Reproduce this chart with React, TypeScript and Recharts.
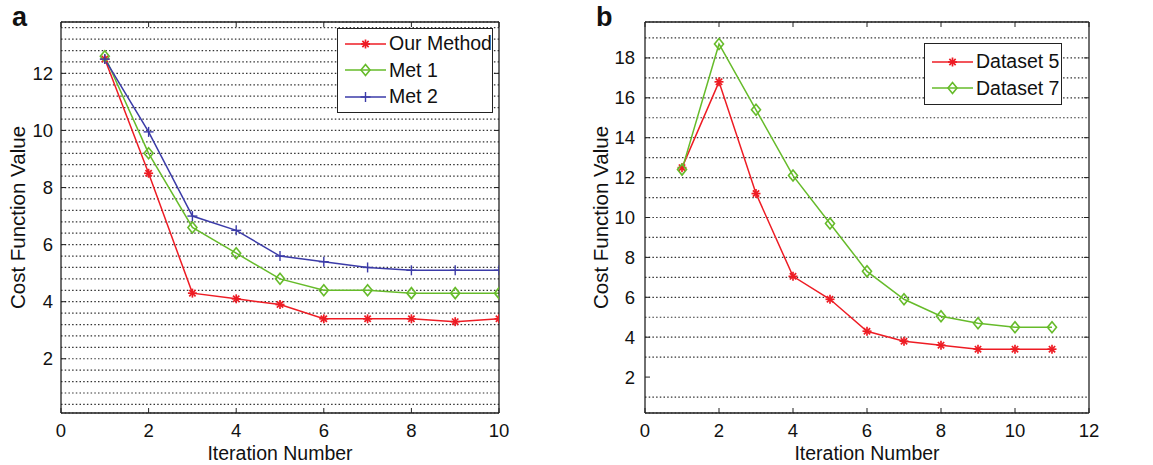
import React from "react";
import {
  LineChart,
  Line,
  XAxis,
  YAxis,
  CartesianGrid,
  Legend,
} from "recharts";

// panel a
const iterA = [1, 2, 3, 4, 5, 6, 7, 8, 9, 10];
const ourMethod = [12.5, 8.5, 4.3, 4.1, 3.9, 3.4, 3.4, 3.4, 3.3, 3.4];
const met1 = [12.6, 9.2, 6.6, 5.7, 4.8, 4.4, 4.4, 4.3, 4.3, 4.3];
const met2 = [12.5, 9.95, 7.0, 6.5, 5.6, 5.4, 5.2, 5.1, 5.1, 5.1];
const xTicksA = [0, 2, 4, 6, 8, 10];
const yTicksA = [2, 4, 6, 8, 10, 12];
const gridA = [
  0.4, 0.8, 1.2, 1.6, 2, 2.4, 2.8, 3.2, 3.6, 4, 4.4, 4.8, 5.2, 5.6, 6, 6.4, 6.8,
  7.2, 7.6, 8, 8.4, 8.8, 9.2, 9.6, 10, 10.4, 10.8, 11.2, 11.6, 12, 12.4, 12.8,
  13.2, 13.6,
];

// panel b
const iterB = [1, 2, 3, 4, 5, 6, 7, 8, 9, 10, 11];
const dataset5 = [12.5, 16.8, 11.2, 7.05, 5.9, 4.3, 3.8, 3.6, 3.4, 3.4, 3.4];
const dataset7 = [12.4, 18.7, 15.4, 12.1, 9.7, 7.3, 5.9, 5.05, 4.7, 4.5, 4.5];
const xTicksB = [0, 2, 4, 6, 8, 10, 12];
const yTicksB = [2, 4, 6, 8, 10, 12, 14, 16, 18];
const gridB = [1, 3, 4, 5, 6, 7, 8, 9, 10, 11, 12, 13, 14, 15, 16, 17, 18, 19];

const RED = "#ee1c24";
const GREEN = "#66bb2a";
const BLUE = "#3b3ba8";
const INK = "#222";
const FONT = '"Liberation Sans", Arial, Helvetica, sans-serif';

const CHART_H = 465;
const TOP = 22;
const BOTTOM = 52;
const PLOT_H = CHART_H - TOP - BOTTOM;

const dataA = iterA.map((x, i) => ({
  x,
  ours: ourMethod[i],
  met1: met1[i],
  met2: met2[i],
}));
const dataB = iterB.map((x, i) => ({ x, d5: dataset5[i], d7: dataset7[i] }));

type MarkProps = { cx: number; cy: number; color: string };

const StarMark = ({ cx, cy, color }: MarkProps) => {
  const r = 4.5;
  const d = r * 0.7;
  return (
    <g stroke={color} strokeWidth={1.7}>
      <line x1={cx - r} x2={cx + r} y1={cy} y2={cy} />
      <line x1={cx} x2={cx} y1={cy - r} y2={cy + r} />
      <line x1={cx - d} x2={cx + d} y1={cy - d} y2={cy + d} />
      <line x1={cx - d} x2={cx + d} y1={cy + d} y2={cy - d} />
    </g>
  );
};

const DiamondMark = ({ cx, cy, color }: MarkProps) => (
  <polygon
    points={`${cx},${cy - 5.5} ${cx + 4.5},${cy} ${cx},${cy + 5.5} ${cx - 4.5},${cy}`}
    fill="none"
    stroke={color}
    strokeWidth={1.6}
  />
);

const PlusMark = ({ cx, cy, color }: MarkProps) => (
  <g stroke={color} strokeWidth={1.4}>
    <line x1={cx - 5} x2={cx + 5} y1={cy} y2={cy} />
    <line x1={cx} x2={cx} y1={cy - 5} y2={cy + 5} />
  </g>
);

const markDot =
  (Mark: (p: MarkProps) => React.ReactElement, color: string) =>
  (p: any) =>
    <Mark key={`m-${p.index}`} cx={p.cx} cy={p.cy} color={color} />;

// inward tick marks, MATLAB style
const TICK = 5;
const leftTick = (gap: number) => (p: any) => (
  <g>
    <text
      x={p.x}
      y={p.y}
      textAnchor="end"
      dominantBaseline="central"
      fontSize={18.5}
      fontFamily={FONT}
      fill="#111"
    >
      {p.payload.value}
    </text>
    <line x1={p.x + gap} x2={p.x + gap + TICK} y1={p.y} y2={p.y} stroke={INK} />
  </g>
);
// right axis carries the dotted grid values; only majors get a tick mark
const rightTick = (majors: number[]) => (p: any) =>
  majors.includes(p.payload.value) ? (
    <line x1={p.x - TICK} x2={p.x} y1={p.y} y2={p.y} stroke={INK} />
  ) : (
    <g />
  );
// bottom labels plus inward ticks on both bottom and top edges
const bottomTick = (gap: number) => (p: any) => {
  const base = p.y - gap;
  return (
    <g>
      <text
        x={p.x}
        y={p.y}
        dy="0.71em"
        textAnchor="middle"
        fontSize={18.5}
        fontFamily={FONT}
        fill="#111"
      >
        {p.payload.value}
      </text>
      <line x1={p.x} x2={p.x} y1={base} y2={base - TICK} stroke={INK} />
      <line
        x1={p.x}
        x2={p.x}
        y1={base - PLOT_H}
        y2={base - PLOT_H + TICK}
        stroke={INK}
      />
    </g>
  );
};

type LegendRow = {
  name: string;
  color: string;
  Mark: (p: MarkProps) => React.ReactElement;
};

const legendBox = (rows: LegendRow[], padTop: number, width: number) => () =>
  (
    <div
      style={{
        border: `1.5px solid ${INK}`,
        background: "#fff",
        width,
        paddingTop: padTop,
        paddingBottom: 2,
        boxSizing: "border-box",
        fontFamily: FONT,
        fontSize: 19.5,
        color: "#111",
      }}
    >
      {rows.map((r) => (
        <div
          key={r.name}
          style={{ display: "flex", alignItems: "center", height: 26.5 }}
        >
          <svg width={51} height={16} style={{ flexShrink: 0 }}>
            <line x1={7} x2={48} y1={8} y2={8} stroke={r.color} strokeWidth={1.5} />
            <r.Mark cx={27.5} cy={8} color={r.color} />
          </svg>
          <span style={{ whiteSpace: "nowrap" }}>{r.name}</span>
        </div>
      ))}
    </div>
  );

const axisLabelStyle = {
  fontSize: 19.5,
  fontFamily: FONT,
  fill: "#111",
  textAnchor: "middle" as const,
};

const PanelLetter = ({ text, left }: { text: string; left: number }) => (
  <div
    style={{
      position: "absolute",
      left,
      top: 2,
      fontFamily: FONT,
      fontWeight: "bold",
      fontSize: 27,
      color: "#111",
    }}
  >
    {text}
  </div>
);

const axisLine = { stroke: INK, strokeWidth: 1.3 };

export default function App() {
  return (
    <div
      style={{
        position: "absolute",
        left: 0,
        top: 0,
        width: 1153,
        height: 465,
        background: "#fff",
      }}
    >
      <PanelLetter text="a" left={12} />
      <PanelLetter text="b" left={596} />

      <div style={{ position: "absolute", left: 0, top: 0 }}>
        <LineChart
          width={580}
          height={CHART_H}
          data={dataA}
          margin={{ top: TOP - 10, right: 61, bottom: 0, left: 0 }}
        >
          <CartesianGrid
            yAxisId="r"
            horizontal
            vertical={false}
            stroke="#333"
            strokeDasharray="1.5 2.2"
            strokeWidth={1.2}
          />
          <XAxis
            dataKey="x"
            type="number"
            domain={[0, 10]}
            ticks={xTicksA}
            interval={0}
            allowDataOverflow
            height={BOTTOM}
            tickSize={0}
            tickMargin={11}
            tickLine={false}
            axisLine={axisLine}
            tick={bottomTick(11)}
            label={{
              value: "Iteration Number",
              position: "insideBottom",
              offset: 5,
              style: axisLabelStyle,
            }}
          />
          <XAxis
            xAxisId="t"
            orientation="top"
            type="number"
            domain={[0, 10]}
            allowDataOverflow
            height={10}
            tick={false}
            tickLine={false}
            axisLine={axisLine}
          />
          <YAxis
            type="number"
            domain={[0.1, 13.8]}
            ticks={yTicksA}
            interval={0}
            allowDataOverflow
            width={61}
            tickSize={0}
            tickMargin={8}
            tickLine={false}
            axisLine={axisLine}
            tick={leftTick(8)}
            label={{
              value: "Cost Function Value",
              angle: -90,
              position: "insideLeft",
              offset: 0,
              dx: 18,
              style: { ...axisLabelStyle, fontSize: 20.5 },
            }}
          />
          <YAxis
            yAxisId="r"
            orientation="right"
            type="number"
            domain={[0.1, 13.8]}
            ticks={gridA}
            interval={0}
            allowDataOverflow
            width={20}
            tickSize={0}
            tickMargin={0}
            tickLine={false}
            axisLine={axisLine}
            tick={rightTick(yTicksA)}
          />
          <Line
            type="linear"
            dataKey="ours"
            name="Our Method"
            stroke={RED}
            strokeWidth={1.5}
            dot={markDot(StarMark, RED)}
            isAnimationActive={false}
          />
          <Line
            type="linear"
            dataKey="met1"
            name="Met 1"
            stroke={GREEN}
            strokeWidth={1.5}
            dot={markDot(DiamondMark, GREEN)}
            isAnimationActive={false}
          />
          <Line
            type="linear"
            dataKey="met2"
            name="Met 2"
            stroke={BLUE}
            strokeWidth={1.5}
            dot={markDot(PlusMark, BLUE)}
            isAnimationActive={false}
          />
          <Legend
            layout="vertical"
            align="center"
            verticalAlign="middle"
            wrapperStyle={{ left: 337, top: 28, width: 156 }}
            content={legendBox(
              [
                { name: "Our Method", color: RED, Mark: StarMark },
                { name: "Met 1", color: GREEN, Mark: DiamondMark },
                { name: "Met 2", color: BLUE, Mark: PlusMark },
              ],
              1.5,
              156
            )}
          />
        </LineChart>
      </div>

      <div style={{ position: "absolute", left: 580, top: 0 }}>
        <LineChart
          width={573}
          height={CHART_H}
          data={dataB}
          margin={{ top: TOP - 10, right: 44, bottom: 0, left: 0 }}
        >
          <CartesianGrid
            yAxisId="r"
            horizontal
            vertical={false}
            stroke="#333"
            strokeDasharray="1.5 2.2"
            strokeWidth={1.2}
          />
          <XAxis
            dataKey="x"
            type="number"
            domain={[0, 12]}
            ticks={xTicksB}
            interval={0}
            allowDataOverflow
            height={BOTTOM}
            tickSize={0}
            tickMargin={11}
            tickLine={false}
            axisLine={axisLine}
            tick={bottomTick(11)}
            label={{
              value: "Iteration Number",
              position: "insideBottom",
              offset: 5,
              style: axisLabelStyle,
            }}
          />
          <XAxis
            xAxisId="t"
            orientation="top"
            type="number"
            domain={[0, 12]}
            allowDataOverflow
            height={10}
            tick={false}
            tickLine={false}
            axisLine={axisLine}
          />
          <YAxis
            type="number"
            domain={[0.2, 19.8]}
            ticks={yTicksB}
            interval={0}
            allowDataOverflow
            width={65}
            tickSize={0}
            tickMargin={10}
            tickLine={false}
            axisLine={axisLine}
            tick={leftTick(10)}
            label={{
              value: "Cost Function Value",
              angle: -90,
              position: "insideLeft",
              offset: 0,
              dx: 21,
              style: { ...axisLabelStyle, fontSize: 20.5 },
            }}
          />
          <YAxis
            yAxisId="r"
            orientation="right"
            type="number"
            domain={[0.2, 19.8]}
            ticks={gridB}
            interval={0}
            allowDataOverflow
            width={20}
            tickSize={0}
            tickMargin={0}
            tickLine={false}
            axisLine={axisLine}
            tick={rightTick(yTicksB)}
          />
          <Line
            type="linear"
            dataKey="d5"
            name="Dataset 5"
            stroke={RED}
            strokeWidth={1.5}
            dot={markDot(StarMark, RED)}
            isAnimationActive={false}
          />
          <Line
            type="linear"
            dataKey="d7"
            name="Dataset 7"
            stroke={GREEN}
            strokeWidth={1.5}
            dot={markDot(DiamondMark, GREEN)}
            isAnimationActive={false}
          />
          <Legend
            layout="vertical"
            align="center"
            verticalAlign="middle"
            wrapperStyle={{ left: 344, top: 43, width: 138 }}
            content={legendBox(
              [
                { name: "Dataset 5", color: RED, Mark: StarMark },
                { name: "Dataset 7", color: GREEN, Mark: DiamondMark },
              ],
              4.5,
              138
            )}
          />
        </LineChart>
      </div>
    </div>
  );
}
